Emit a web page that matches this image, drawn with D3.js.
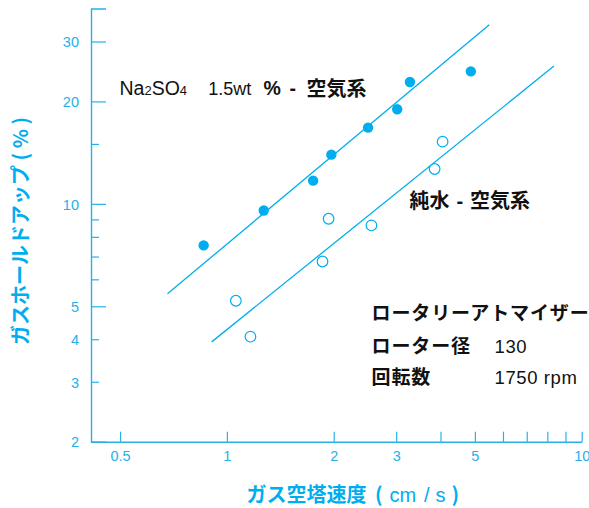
<!DOCTYPE html>
<html>
<head>
<meta charset="utf-8">
<script src="https://cdn.jsdelivr.net/npm/d3@7"></script>
<style>
  html, body { margin: 0; padding: 0; background: #fff; }
  svg { display: block; }
  .jp { font-family: "Noto Sans CJK JP", sans-serif; }
  .lat { font-family: "Liberation Sans", Arial, sans-serif; }
</style>
</head>
<body>
<svg id="chart" width="589" height="508"></svg>
<script>
// Gas velocity (cm/s) vs. gas hold-up (%), rotary atomizer
const saltVelocity  = [0.86, 1.27, 1.75, 1.97, 2.50, 3.02, 3.28, 4.87];
const saltHoldup    = [7.55, 9.56, 11.7, 13.95, 16.75, 18.96, 22.8, 24.5];
const waterVelocity = [1.06, 1.165, 1.86, 1.935, 2.555, 3.85, 4.055];
const waterHoldup   = [5.19, 4.07, 6.77, 9.04, 8.64, 12.66, 15.23];

// fitted lines, endpoints [velocity, hold-up]
const saltFit  = [[0.68, 5.44], [5.49, 33.6]];
const waterFit = [[0.906, 3.93], [8.35, 25.4]];

const xTicks = [0.5, 1, 2, 3, 4, 5, 6, 7, 8, 9, 10];
const xTickLabels = [0.5, 1, 2, 3, 5, 10];
const yTicks = [2, 3, 4, 5, 6, 7, 8, 9, 10, 15, 20, 30];
const yTickLabels = [2, 3, 4, 5, 10, 20, 30];
const yMajor = [5, 10, 20, 30];

const cyan = "#00aeef";
const axisCol = "#27b0e8";
const ink = "#111";

const svg = d3.select("#chart");

const x = d3.scaleLog().domain([0.414, 10]).range([91, 581.7]);
const y = d3.scaleLog().domain([2, 37.5]).range([441.7, 8.5]);

// x axis
const xAxis = d3.axisBottom(x)
  .tickValues(xTicks)
  .tickSizeInner(-10)
  .tickSizeOuter(0)
  .tickPadding(9)
  .tickFormat(d => xTickLabels.includes(d) ? String(d) : "");
const gx = svg.append("g").attr("transform", `translate(0,${y.range()[0]})`).call(xAxis);

// y axis
const yAxis = d3.axisLeft(y)
  .tickValues(yTicks)
  .tickSizeInner(-15)
  .tickSizeOuter(-15)
  .tickPadding(12)
  .tickFormat(d => yTickLabels.includes(d) ? String(d) : "");
const gy = svg.append("g").attr("transform", `translate(${x.range()[0]},0)`).call(yAxis);
gy.selectAll(".tick line").attr("x2", d => yMajor.includes(d) ? 15 : 8);
gy.selectAll(".tick").filter(d => d === 2).select("line").remove();

[gx, gy].forEach(g => {
  g.selectAll("path.domain").attr("stroke", axisCol).attr("stroke-width", 1.4);
  g.selectAll(".tick line").attr("stroke", axisCol).attr("stroke-width", 1.2);
  g.selectAll(".tick text")
    .attr("fill", axisCol)
    .attr("font-family", "'Liberation Sans', Arial, sans-serif")
    .attr("font-size", 14.5);
});
gy.selectAll(".tick text").attr("dy", "0.36em");

// fitted lines
const line = d3.line().x(d => x(d[0])).y(d => y(d[1]));
[saltFit, waterFit].forEach(f => {
  svg.append("path").attr("d", line(f))
    .attr("fill", "none").attr("stroke", cyan).attr("stroke-width", 1.3);
});

// Na2SO4 solution: filled dots
svg.append("g").selectAll("circle")
  .data(d3.zip(saltVelocity, saltHoldup))
  .join("circle")
  .attr("cx", d => x(d[0])).attr("cy", d => y(d[1]))
  .attr("r", 5.2).attr("fill", cyan);

// pure water: open dots
svg.append("g").selectAll("circle")
  .data(d3.zip(waterVelocity, waterHoldup))
  .join("circle")
  .attr("cx", d => x(d[0])).attr("cy", d => y(d[1]))
  .attr("r", 5.3).attr("fill", "#fff").attr("stroke", cyan).attr("stroke-width", 1.2);

// y axis title (rotated)
const yt = svg.append("text")
  .attr("transform", "translate(28,231) rotate(-90)")
  .attr("text-anchor", "middle")
  .attr("class", "jp")
  .attr("font-weight", "bold")
  .attr("font-size", 20)
  .attr("fill", cyan)
  .text("ガスホールドアップ ( % )");

// x axis title
const xt = svg.append("text").attr("y", 502).attr("fill", cyan).attr("font-size", 20);
xt.append("tspan").attr("x", 246.5).attr("class", "jp").attr("font-weight", "bold").text("ガス空塔速度");
xt.append("tspan").attr("x", 375).attr("class", "jp").attr("font-weight", "bold").text("(");
xt.append("tspan").attr("x", 389.5).attr("class", "lat").text("cm");
xt.append("tspan").attr("x", 424).attr("class", "lat").text("/");
xt.append("tspan").attr("x", 435.5).attr("class", "lat").text("s");
xt.append("tspan").attr("x", 451.5).attr("class", "jp").attr("font-weight", "bold").text(")");

// series labels
const t1 = svg.append("text").attr("y", 95).attr("fill", ink).attr("font-size", 19.5);
t1.append("tspan").attr("x", 119.5).attr("class", "lat").text("Na");
t1.append("tspan").attr("class", "lat").attr("font-size", 13).text("2");
t1.append("tspan").attr("class", "lat").text("SO");
t1.append("tspan").attr("class", "lat").attr("font-size", 13).text("4");
t1.append("tspan").attr("x", 208.3).attr("class", "lat").attr("font-size", 18).text("1.5wt");
t1.append("tspan").attr("x", 263.5).attr("class", "lat").attr("font-weight", "bold").text("%");
t1.append("tspan").attr("x", 289.5).attr("class", "lat").attr("font-weight", "bold").text("-");
t1.append("tspan").attr("x", 306.5).attr("y", 96).attr("class", "jp").attr("font-weight", "bold").attr("font-size", 20).text("空気系");

const t2 = svg.append("text").attr("y", 208).attr("fill", ink).attr("font-size", 20).attr("font-weight", "bold");
t2.append("tspan").attr("x", 409.5).attr("class", "jp").text("純水");
t2.append("tspan").attr("x", 456.5).attr("class", "lat").text("-");
t2.append("tspan").attr("x", 470).attr("class", "jp").text("空気系");

// operating conditions
const cond = [
  ["ロータリーアトマイザー", "", 320],
  ["ローター径", "130", 353],
  ["回転数", "1750 rpm", 384]
];
cond.forEach(([k, v, yy]) => {
  svg.append("text").attr("x", 371.5).attr("y", yy)
    .attr("class", "jp").attr("font-weight", "bold").attr("font-size", 19)
    .attr("letter-spacing", 0.9).attr("fill", ink).text(k);
  if (v) svg.append("text").attr("x", 494.5).attr("y", yy)
    .attr("class", "lat").attr("font-size", 18.5).attr("letter-spacing", 0.6)
    .attr("fill", ink).text(v);
});
</script>
</body>
</html>
